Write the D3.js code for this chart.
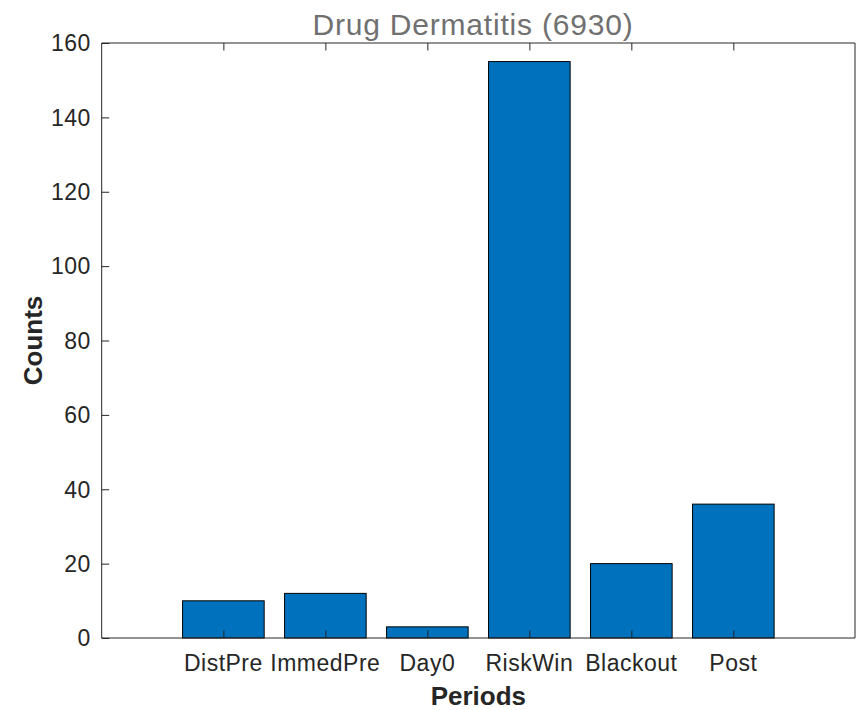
<!DOCTYPE html>
<html>
<head>
<meta charset="utf-8">
<script src="https://cdn.jsdelivr.net/npm/d3@7/dist/d3.min.js"></script>
<style>
  html, body { margin: 0; padding: 0; background: #fff; }
  svg { display: block; font-family: "Liberation Sans", Arial, Helvetica, sans-serif; }
</style>
</head>
<body>
<svg id="chart" width="856" height="710"></svg>
<script>
// Event counts per observation period
const categories = ["DistPre", "ImmedPre", "Day0", "RiskWin", "Blackout", "Post"];
const counts = [10, 12, 3, 155, 20, 36];
const yTicks = [0, 20, 40, 60, 80, 100, 120, 140, 160];
const titleText = "Drug Dermatitis (6930)";
const xLabel = "Periods";
const yLabel = "Counts";

const svg = d3.select("#chart");
const plot = { left: 101.7, right: 855, top: 43, bottom: 638 };
const axisColor = "#262626";
const tickLen = 7.5;

// Bars sit at positions 1..n on a numeric axis, like a MATLAB bar plot
const pos = categories.map((_, i) => i + 1);
const pad = 1.193;
const x = d3.scaleLinear()
  .domain([1 - pad, categories.length + pad])
  .range([plot.left, plot.right]);
const y = d3.scaleLinear().domain([0, 160]).range([plot.bottom, plot.top]);
const barW = 0.8;

// Bars
svg.append("g")
  .selectAll("rect")
  .data(counts)
  .join("rect")
  .attr("x", (d, i) => x(pos[i] - barW / 2))
  .attr("width", x(barW) - x(0))
  .attr("y", d => y(d))
  .attr("height", d => y(0) - y(d))
  .attr("fill", "#0072BD")
  .attr("stroke", "#000")
  .attr("stroke-width", 1);

// Left axis with inward ticks
const yAxis = d3.axisRight(y).tickValues(yTicks).tickSize(tickLen).tickFormat("");
const gy = svg.append("g").attr("transform", `translate(${plot.left},0)`).call(yAxis);

// Bottom axis with inward ticks
const xAxis = d3.axisTop(x).tickValues(pos).tickSize(tickLen).tickFormat("");
const gx = svg.append("g").attr("transform", `translate(0,${plot.bottom})`).call(xAxis);

// Top edge with inward ticks
const xTop = d3.axisBottom(x).tickValues(pos).tickSize(tickLen).tickFormat("");
const gxt = svg.append("g").attr("transform", `translate(0,${plot.top})`).call(xTop);

// Right edge (no ticks)
const yRight = d3.axisLeft(y).tickValues([]).tickSize(0).tickSizeOuter(0);
const gyr = svg.append("g").attr("transform", `translate(${plot.right},0)`).call(yRight);

[gy, gx, gxt, gyr].forEach(g => {
  g.selectAll("path.domain").attr("stroke", axisColor).attr("stroke-width", 1);
  g.selectAll(".tick line").attr("stroke", axisColor).attr("stroke-width", 1);
});
gy.select("path.domain").attr("d", `M0,${plot.bottom}V${plot.top}`);
gyr.select("path.domain").attr("d", `M0,${plot.bottom}V${plot.top}`);
gx.select("path.domain").attr("d", `M${plot.left},0H${plot.right}`);
gxt.select("path.domain").attr("d", `M${plot.left},0H${plot.right}`);

// Y tick labels
svg.append("g")
  .selectAll("text")
  .data(yTicks)
  .join("text")
  .attr("x", plot.left - 11)
  .attr("y", d => y(d))
  .attr("dy", "0.36em")
  .attr("text-anchor", "end")
  .attr("font-size", 23)
  .attr("letter-spacing", 0.4)
  .attr("fill", axisColor)
  .text(d => d);

// X tick labels
svg.append("g")
  .selectAll("text")
  .data(categories)
  .join("text")
  .attr("x", (d, i) => x(pos[i]))
  .attr("y", 671)
  .attr("text-anchor", "middle")
  .attr("font-size", 23)
  .attr("letter-spacing", 0.5)
  .attr("fill", axisColor)
  .text(d => d);

// Axis titles
svg.append("text")
  .attr("x", (plot.left + plot.right) / 2)
  .attr("y", 705)
  .attr("text-anchor", "middle")
  .attr("font-size", 26)
  .attr("font-weight", "bold")
  .attr("fill", axisColor)
  .text(xLabel);

svg.append("text")
  .attr("transform", `translate(41.5,${(plot.top + plot.bottom) / 2}) rotate(-90)`)
  .attr("text-anchor", "middle")
  .attr("font-size", 26)
  .attr("font-weight", "bold")
  .attr("fill", axisColor)
  .text(yLabel);

// Chart title
svg.append("text")
  .attr("x", 473)
  .attr("y", 35)
  .attr("text-anchor", "middle")
  .attr("font-size", 30)
  .attr("letter-spacing", 0.8)
  .attr("fill", "#707070")
  .text(titleText);
</script>
</body>
</html>
